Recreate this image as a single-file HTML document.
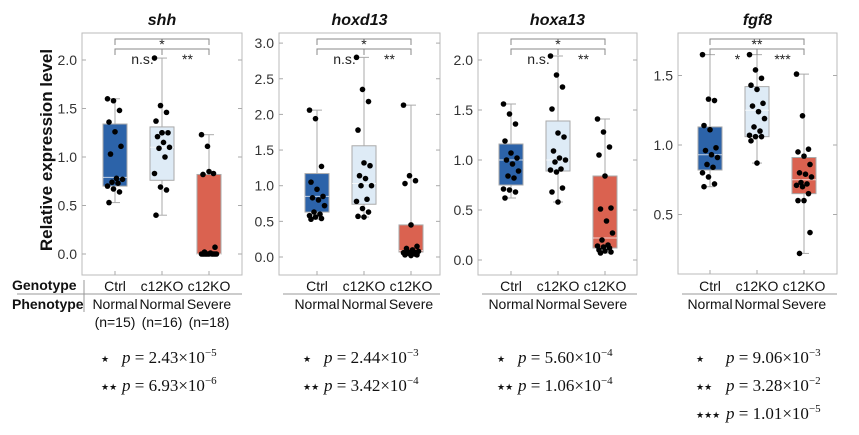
<!DOCTYPE html>
<html><head><meta charset="utf-8"><style>
body{margin:0;background:#fff;width:859px;height:435px;overflow:hidden}
svg{display:block}
</style></head><body>
<svg id="fig" width="859" height="435" viewBox="0 0 859 435" xmlns="http://www.w3.org/2000/svg" font-family="Liberation Sans, sans-serif"></svg>
<script>
const genes = ["shh","hoxd13","hoxa13","fgf8"];
const groups = ["Ctrl","c12KO","c12KO"];
const phenos = ["Normal","Normal","Severe"];
const yTicks = [[0,0.5,1,1.5,2],[0,0.5,1,1.5,2,2.5,3],[0,0.5,1,1.5,2],[0.5,1,1.5]];
const q1 = [[0.70,0.76,0.0],[0.63,0.74,0.07],[0.75,0.89,0.12],[0.82,1.06,0.65]];
const med = [[0.79,1.10,0.0],[0.85,1.03,0.09],[1.0,1.0,0.22],[0.93,1.25,0.75]];
const q3 = [[1.34,1.31,0.82],[1.17,1.56,0.45],[1.16,1.39,0.84],[1.13,1.42,0.91]];
const wLo = [[0.53,0.40,0.0],[0.53,0.56,0.02],[0.62,0.58,0.07],[0.70,0.87,0.22]];
const wHi = [[1.60,2.02,1.23],[2.06,2.80,2.13],[1.56,2.04,1.41],[1.65,1.65,1.51]];
const shhPts = [[1.60,1.58,1.48,1.36,1.26,1.11,1.03,0.78,0.77,0.74,0.73,0.70,0.67,0.64,0.53],
 [2.02,1.53,1.46,1.37,1.25,1.25,1.21,1.15,1.10,1.09,1.00,0.83,0.69,0.66,0.40,1.25],
 [1.23,1.11,0.83,0.82,0.85,0.07,0.02,0.01,0,0,0,0,0,0,0,0,0,0]];
const hoxd13Pts = [[2.06,1.94,1.27,1.05,0.95,0.85,0.83,0.80,0.72,0.63,0.60,0.58,0.56,0.54,0.53],
 [2.80,2.35,2.18,1.78,1.32,1.28,1.14,1.10,1.00,1.00,0.81,0.78,0.68,0.63,0.57,0.56],
 [2.13,1.14,1.07,1.03,0.45,0.15,0.12,0.10,0.08,0.07,0.07,0.06,0.05,0.04,0.03,0.02,0.03,0.05]];
const hoxa13Pts = [[1.56,1.46,1.36,1.19,1.07,1.02,1.00,0.96,0.89,0.84,0.82,0.71,0.70,0.68,0.62],
 [2.04,1.85,1.73,1.51,1.27,1.23,1.09,1.02,1.00,0.98,0.91,0.90,0.88,0.72,0.68,0.58],
 [1.41,1.28,1.13,1.05,0.84,0.52,0.51,0.39,0.27,0.20,0.15,0.14,0.13,0.12,0.10,0.09,0.08,0.07]];
const fgf8Pts = [[1.65,1.33,1.32,1.14,1.11,0.98,0.96,0.93,0.91,0.86,0.84,0.80,0.77,0.72,0.70],
 [1.65,1.54,1.48,1.43,1.40,1.30,1.28,1.24,1.19,1.13,1.10,1.07,1.06,1.06,1.03,0.87],
 [1.51,1.21,0.97,0.95,0.92,0.86,0.80,0.79,0.77,0.73,0.72,0.71,0.70,0.65,0.60,0.60,0.37,0.22]];
const points = [shhPts,hoxd13Pts,hoxa13Pts,fgf8Pts];
const sigTop = ["*","*","*","**"];
const sigLeft = ["n.s.","n.s.","n.s.","*"];
const sigRight = ["**","**","**","***"];
const pStars = [["★","★★"],["★","★★"],["★","★★"],["★","★★","★★★"]];
const pMant = [["2.43","6.93"],["2.44","3.42"],["5.60","1.06"],["9.06","3.28","1.01"]];
const pExp = [["5","6"],["3","4"],["4","4"],["3","2","5"]];

// layout (not data)
const frames = [{l:82,r:242,t:33,b:275,y0:254,ppu:97,cx0:115},
 {l:279,r:440,t:33,b:275,y0:257,ppu:71.3,cx0:317},
 {l:478,r:637,t:33,b:275,y0:260,ppu:100,cx0:511},
 {l:678,r:837,t:33,b:274,y0:284,ppu:139,cx0:710}];
const colors = ["#2c63a9","#deebf6","#da6250"];
const NS="http://www.w3.org/2000/svg";
const svg=document.getElementById('fig');
function el(tag,attrs,parent,text){const e=document.createElementNS(NS,tag);for(const k in attrs)e.setAttribute(k,attrs[k]);if(text!==undefined)e.textContent=text;(parent||svg).appendChild(e);return e;}

frames.forEach((f,pi)=>{
  const g=el('g',{});
  
  
  const y=v=>f.y0-f.ppu*v;
  const x=i=>f.cx0+i*47;
  const fr=el('rect',{x:f.l,y:f.t,width:f.r-f.l,height:f.b-f.t,fill:'none',stroke:'#bbb','stroke-width':1},g);
  
  
  const t=el('text',{x:(f.l+f.r)/2,y:25,'text-anchor':'middle','font-size':16,'font-weight':'bold','font-style':'italic',fill:'#111'},g,genes[pi]);
  
  
  yTicks[pi].forEach(v=>{
    el('line',{x1:f.l,x2:f.l+4,y1:y(v),y2:y(v),stroke:'#aaa'},g);
    el('line',{x1:f.r,x2:f.r-4,y1:y(v),y2:y(v),stroke:'#aaa'},g);
    const tl=el('text',{x:f.l-5,y:y(v)+5,'text-anchor':'end','font-size':14,fill:'#333'},g,v.toFixed(1));
    
    
  });
  for(let i=0;i<3;i++){
    const cx=x(i),w=24;
    el('line',{x1:cx,x2:cx,y1:y(wHi[pi][i]),y2:y(wLo[pi][i]),stroke:'#aaa'},g);
    el('line',{x1:cx-5,x2:cx+5,y1:y(wHi[pi][i]),y2:y(wHi[pi][i]),stroke:'#aaa'},g);
    el('line',{x1:cx-5,x2:cx+5,y1:y(wLo[pi][i]),y2:y(wLo[pi][i]),stroke:'#aaa'},g);
    const b=el('rect',{x:cx-w/2,y:y(q3[pi][i]),width:w,height:y(q1[pi][i])-y(q3[pi][i]),fill:colors[i],stroke:'#aaa'},g);
    
    
    el('line',{x1:cx-w/2,x2:cx+w/2,y1:y(med[pi][i]),y2:y(med[pi][i]),stroke:'#fff','stroke-opacity':0.7},g);
    points[pi][i].forEach((v,k)=>{
      const jx=((k*37)%11-5)*1.5;
      const c=el('circle',{cx:cx+jx,cy:y(v),r:2.8,fill:'#000'},g);
      
      
    });
    el('line',{x1:cx,x2:cx,y1:f.b,y2:f.b-4,stroke:'#aaa'},g);
    const gl=el('text',{x:cx,y:291,'text-anchor':'middle','font-size':14,fill:'#111'},g,groups[i]);
    
    
    const pl=el('text',{x:cx,y:309,'text-anchor':'middle','font-size':14,fill:'#111'},g,phenos[i]);
    
    
  }
  const a=x(0),m=x(1),c=x(2);
  el('path',{d:`M${a},45 V39 H${c} V45`,fill:'none',stroke:'#888'},g);
  el('path',{d:`M${a},55 V49 H${c} V55 M${m},49 V55`,fill:'none',stroke:'#888'},g);
  el('text',{x:m,y:49,'text-anchor':'middle','font-size':14,fill:'#222'},g,sigTop[pi]);
  el('text',{x:(a+m)/2+4,y:64,'text-anchor':'middle','font-size':14,fill:'#222'},g,sigLeft[pi]);
  el('text',{x:(m+c)/2+2,y:64,'text-anchor':'middle','font-size':14,fill:'#222'},g,sigRight[pi]);
  el('line',{x1:pi===0?17:f.l+4,x2:f.r,y1:294,y2:294,stroke:'#999'},g);
  pStars[pi].forEach((s,k)=>{
    const yy=363+k*28;
    const sx=f.cx0-14;
    el('text',{x:sx,y:yy-1,'font-size':9,fill:'#111','font-family':'DejaVu Sans, sans-serif'},g,s);
    const pt=el('text',{x:sx+(pi===3?30:21),y:yy,'font-size':17,fill:'#111','font-family':'Liberation Serif, serif'},g);
    
    
    el('tspan',{'font-style':'italic'},pt,'p');
    el('tspan',{},pt,' = '+pMant[pi][k]+'×10');
    el('tspan',{dy:-7,'font-size':11},pt,'−'+pExp[pi][k]);
  });
});
const yl=el('text',{x:0,y:0,transform:'translate(52,150) rotate(-90)','text-anchor':'middle','font-size':17,'font-weight':'bold',fill:'#111'},svg,'Relative expression level');


const gt=el('text',{x:12,y:290,'font-size':14,'font-weight':'bold',fill:'#111'},svg,'Genotype');


const pt=el('text',{x:12,y:309,'font-size':14,'font-weight':'bold',fill:'#111'},svg,'Phenotype');


el('line',{x1:84,x2:84,y1:280,y2:312,stroke:'#999'});
const nLabels=["(n=15)","(n=16)","(n=18)"];
nLabels.forEach((s,i)=>{
  const n=el('text',{x:115+i*47,y:327,'text-anchor':'middle','font-size':14,fill:'#111'},svg,s);
  
  
});
</script>
</body></html>
